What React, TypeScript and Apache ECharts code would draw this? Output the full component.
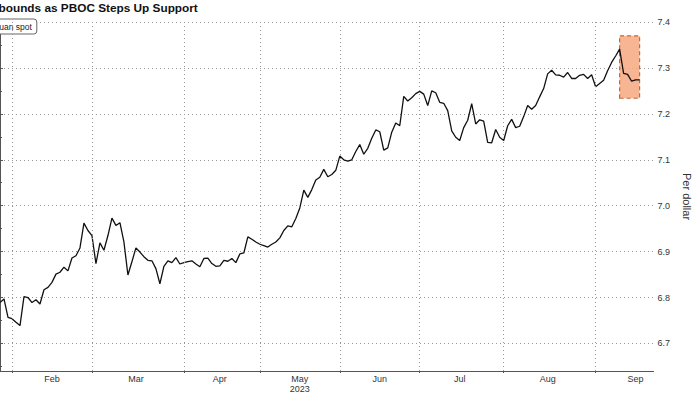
import React, { useEffect, useRef } from "react";
import * as echarts from "echarts";

// Trading days (onshore CNY) per month, 2023
const monthNames = ["Jan", "Feb", "Mar", "Apr", "May", "Jun", "Jul", "Aug", "Sep"];
const tradingDays: number[][] = [
  [20, 30, 31],
  [1, 2, 3, 6, 7, 8, 9, 10, 13, 14, 15, 16, 17, 20, 21, 22, 23, 24, 27, 28],
  [1, 2, 3, 6, 7, 8, 9, 10, 13, 14, 15, 16, 17, 20, 21, 22, 23, 24, 27, 28, 29, 30, 31],
  [3, 4, 6, 7, 10, 11, 12, 13, 14, 17, 18, 19, 20, 21, 24, 25, 26, 27, 28],
  [4, 5, 8, 9, 10, 11, 12, 15, 16, 17, 18, 19, 22, 23, 24, 25, 26, 29, 30, 31],
  [1, 2, 5, 6, 7, 8, 9, 12, 13, 14, 15, 16, 19, 20, 21, 26, 27, 28, 29, 30],
  [3, 4, 5, 6, 7, 10, 11, 12, 13, 14, 17, 18, 19, 20, 21, 24, 25, 26, 27, 28, 31],
  [1, 2, 3, 4, 7, 8, 9, 10, 11, 14, 15, 16, 17, 18, 21, 22, 23, 24, 25, 28, 29, 30, 31],
  [1, 4, 5, 6, 7, 8, 11, 12, 13, 14, 15, 18, 19, 20, 21, 22, 25, 26, 27, 28],
];

// Yuan spot (per dollar)
const janVals = [6.789, 6.797, 6.757];
const febVals = [6.754, 6.746, 6.739, 6.802, 6.8, 6.789, 6.795, 6.786, 6.817, 6.822, 6.833, 6.851, 6.855, 6.866, 6.858, 6.886, 6.891, 6.908, 6.962, 6.946];
const marVals = [6.935, 6.874, 6.919, 6.903, 6.935, 6.973, 6.957, 6.963, 6.921, 6.849, 6.878, 6.908, 6.899, 6.889, 6.881, 6.88, 6.863, 6.83, 6.868, 6.88, 6.876, 6.887, 6.873];
const aprVals = [6.876, 6.878, 6.88, 6.873, 6.867, 6.885, 6.886, 6.874, 6.868, 6.869, 6.881, 6.879, 6.885, 6.876, 6.895, 6.897, 6.932, 6.927, 6.921];
const mayVals = [6.916, 6.913, 6.91, 6.916, 6.921, 6.93, 6.946, 6.956, 6.954, 6.972, 6.995, 7.034, 7.018, 7.035, 7.056, 7.062, 7.079, 7.063, 7.068, 7.077];
const junVals = [7.108, 7.1, 7.097, 7.1, 7.118, 7.133, 7.112, 7.125, 7.147, 7.165, 7.161, 7.121, 7.126, 7.16, 7.18, 7.174, 7.238, 7.228, 7.235, 7.244];
const julVals = [7.249, 7.243, 7.218, 7.25, 7.246, 7.225, 7.223, 7.207, 7.163, 7.149, 7.142, 7.17, 7.186, 7.222, 7.178, 7.187, 7.184, 7.138, 7.137, 7.166, 7.149];
const augVals = [7.142, 7.174, 7.188, 7.17, 7.173, 7.194, 7.218, 7.21, 7.218, 7.237, 7.255, 7.287, 7.295, 7.285, 7.284, 7.28, 7.29, 7.277, 7.277, 7.284, 7.286, 7.277, 7.285];
const sepVals = [7.259, 7.266, 7.273, 7.294, 7.312, 7.326, 7.341, 7.288, 7.286, 7.271, 7.274, 7.274];

const highlightBand = [7.234, 7.37];
const yTicks = ["6.7", "6.8", "6.9", "7.0", "7.1", "7.2", "7.3", "7.4"];

const TITLE = "Yuan Rebounds as PBOC Steps Up Support";
const LEGEND = "Yuan spot";

export default function App() {
  const ref = useRef<HTMLDivElement>(null);

  useEffect(() => {
    if (!ref.current) return;
    const chart = echarts.init(ref.current, undefined, { renderer: "svg" });

    const values = [
      ...janVals, ...febVals, ...marVals, ...aprVals, ...mayVals,
      ...junVals, ...julVals, ...augVals, ...sepVals,
    ];

    const monthStart: number[] = [];
    const monthEnd: number[] = [];
    let idx = 0;
    tradingDays.forEach((days) => {
      monthStart.push(idx);
      monthEnd.push(idx + days.length - 1);
      idx += days.length;
    });

    const labelMap: Record<number, string> = {};
    const labelIdx: number[] = [];
    const boundaryIdx: number[] = [];
    for (let m = 1; m < monthNames.length; m++) {
      const mid = Math.round((monthStart[m] + monthEnd[m]) / 2);
      labelMap[mid] = monthNames[m] === "May" ? "May\n2023" : monthNames[m];
      labelIdx.push(mid);
      boundaryIdx.push(monthStart[m]);
    }

    let peakIdx = 0;
    values.forEach((v, i) => {
      if (v > values[peakIdx]) peakIdx = i;
    });
    const lastIdx = values.length - 1;

    const labelFont = "'Liberation Sans', Arial, sans-serif";

    chart.setOption({
      animation: false,
      backgroundColor: "#ffffff",
      graphic: [
        {
          type: "text",
          x: -48,
          y: 8,
          style: {
            text: TITLE,
            font: "bold 11.8px 'Liberation Sans', Arial, sans-serif",
            fill: "#111",
            verticalAlign: "middle",
          },
        },
      ],
      legend: {
        data: [LEGEND],
        left: -31,
        top: 19,
        padding: [2, 5],
        itemWidth: 14,
        itemHeight: 8,
        borderColor: "#666",
        borderWidth: 1,
        borderRadius: 3,
        backgroundColor: "#fff",
        textStyle: { fontSize: 8.5, color: "#222", fontFamily: labelFont, lineHeight: 11 },
      },
      grid: { left: -0.3, right: 30, top: 22, bottom: 22, containLabel: false },
      xAxis: {
        type: "value",
        min: 0,
        max: 163.5,
        axisLine: { show: true, lineStyle: { color: "#555", width: 1 } },
        axisTick: { show: true, customValues: boundaryIdx, length: 2, lineStyle: { color: "#555" } },
        splitLine: { show: false },
        axisLabel: {
          show: true,
          customValues: labelIdx,
          formatter: (v: number) => labelMap[Math.round(v)] ?? "",
          fontSize: 9,
          color: "#333",
          fontFamily: labelFont,
          margin: 3,
          lineHeight: 10,
        },
      },
      yAxis: {
        type: "value",
        position: "right",
        min: 6.64,
        max: 7.4,
        splitNumber: 8,
        name: "Per dollar",
        nameLocation: "middle",
        nameRotate: -90,
        nameGap: 21,
        nameTextStyle: { fontSize: 11, color: "#333", fontFamily: labelFont },
        axisLine: { show: true, lineStyle: { color: "#555", width: 1 } },
        axisTick: { show: true, length: 3, lineStyle: { color: "#555" } },
        minorTick: { show: true, splitNumber: 2, length: 2, lineStyle: { color: "#555" } },
        splitLine: { show: true, lineStyle: { type: [1, 3], color: "#999", width: 1 } },
        axisLabel: {
          fontSize: 9,
          color: "#333",
          fontFamily: labelFont,
          margin: 4,
          formatter: (v: number) => {
            const s = v.toFixed(1);
            return Math.abs(v * 10 - Math.round(v * 10)) < 1e-6 && yTicks.includes(s) ? s : "";
          },
        },
      },
      series: [
        {
          name: "grid",
          type: "line",
          data: [],
          z: 1,
          silent: true,
          markLine: {
            silent: true,
            symbol: ["none", "none"],
            label: { show: false },
            lineStyle: { type: [1, 3], color: "#999", width: 1 },
            data: boundaryIdx.map((i) => ({ xAxis: i })),
          },
        },
        {
          name: LEGEND,
          type: "line",
          z: 3,
          showSymbol: false,
          data: values.map((v, i) => [i, v]),
          lineStyle: { color: "#111", width: 1.3 },
          itemStyle: { color: "#111" },
          markArea: {
            silent: true,
            itemStyle: {
              color: "rgba(247,168,128,0.85)",
              borderColor: "#c46a36",
              borderWidth: 1.2,
              borderType: [4, 3],
            },
            data: [[
              { xAxis: peakIdx, yAxis: highlightBand[0] },
              { xAxis: lastIdx, yAxis: highlightBand[1] },
            ]],
          },
        },
      ],
    });

    return () => chart.dispose();
  }, []);

  return (
    <div
      ref={ref}
      style={{ position: "fixed", left: 0, top: 0, width: 700, height: 394, background: "#fff" }}
    />
  );
}
